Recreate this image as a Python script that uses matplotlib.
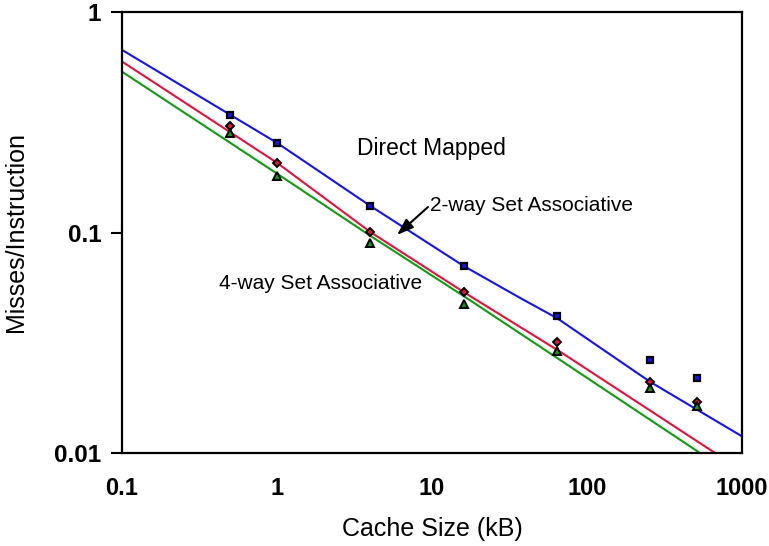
import matplotlib
matplotlib.use("Agg")
import matplotlib.pyplot as plt

plt.rcParams['font.family'] = ['Liberation Sans', 'DejaVu Sans']

# --- datos ---
# curvas ajustadas (tamano de cache en kB, fallos por instruccion)
direct_x = [0.1, 1, 4, 16, 37, 64, 256, 1000]
direct_y = [0.673, 0.255, 0.132, 0.0705, 0.0505, 0.0409, 0.0210, 0.0119]
way2_x = [0.1, 1, 4, 16, 67, 670, 1000]
way2_y = [0.596, 0.207, 0.1005, 0.0537, 0.0288, 0.0100, 0.0083]
way4_x = [0.1, 1, 4, 16, 64, 536, 1000]
way4_y = [0.536, 0.185, 0.0966, 0.0515, 0.0270, 0.0100, 0.0075]

# puntos medidos
sizes = [0.5, 1, 4, 16, 64, 256, 512]
direct_pts = [0.341, 0.255, 0.132, 0.0705, 0.0418, 0.0264, 0.0219]
way2_pts = [0.304, 0.207, 0.1005, 0.0537, 0.0319, 0.0210, 0.0170]
way4_pts = [0.283, 0.180, 0.0896, 0.0474, 0.0290, 0.0197, 0.0163]

xticks = [0.1, 1, 10, 100, 1000]
xtick_labels = ['0.1', '1', '10', '100', '1000']
yticks = [0.01, 0.1, 1]
ytick_labels = ['0.01', '0.1', '1']

azul = '#1414F0'
rojo = '#E0143C'
verde = '#129A12'

fig = plt.figure(figsize=(7.69, 5.46), dpi=100)
ax = fig.add_axes([122 / 769, 1 - 453 / 546, 620 / 769, 441 / 546])

# --- curvas ---
ax.plot(direct_x, direct_y, color=azul, lw=1.5, zorder=2)
ax.plot(way2_x, way2_y, color=rojo, lw=1.5, zorder=2)
ax.plot(way4_x, way4_y, color=verde, lw=1.5, zorder=2)

# --- marcadores ---
ax.plot(sizes, direct_pts, ls='none', marker='s', ms=5, mfc=azul, mec='black', mew=1.6, zorder=3)
ax.plot(sizes, way2_pts, ls='none', marker='D', ms=4.5, mfc=rojo, mec='black', mew=1.4, zorder=3)
ax.plot(sizes, way4_pts, ls='none', marker='^', ms=5.5, mfc=verde, mec='black', mew=1.4, zorder=3)

# --- textos ---
ax.text(9.9, 0.240, 'Direct Mapped', fontsize=16.5, ha='center', va='center')
ax.text(9.7, 0.132, '2-way Set Associative', fontsize=15, ha='left', va='center')
ax.text(0.42, 0.059, '4-way Set Associative', fontsize=15, ha='left', va='center')
ax.annotate('', xy=(5.94, 0.0975), xytext=(9.42, 0.1305),
            arrowprops=dict(arrowstyle='-|>,head_length=1.0,head_width=0.35',
                            color='black', lw=1.5, shrinkA=0, shrinkB=0))

# --- ejes ---
ax.set_xscale('log')
ax.set_yscale('log')
ax.set_xlim(0.1, 1000)
ax.set_ylim(0.01, 1)
ax.set_xticks(xticks)
ax.set_xticklabels(xtick_labels, fontsize=17, fontweight='bold')
ax.set_yticks(yticks)
ax.set_yticklabels(ytick_labels, fontsize=17.5, fontweight='bold')
ax.minorticks_off()
ax.tick_params(axis='x', length=0, pad=17)
ax.tick_params(axis='y', direction='out', length=8, width=1.5, pad=7)

for s in ax.spines.values():
    s.set_linewidth(1.6)

ax.set_xlabel('Cache Size (kB)', fontsize=18)
ax.set_ylabel('Misses/Instruction', fontsize=18)
ax.xaxis.set_label_coords(0.5, -0.145)
ax.yaxis.set_label_coords(-0.152, 0.5)

fig.savefig('out.png', dpi=100)
